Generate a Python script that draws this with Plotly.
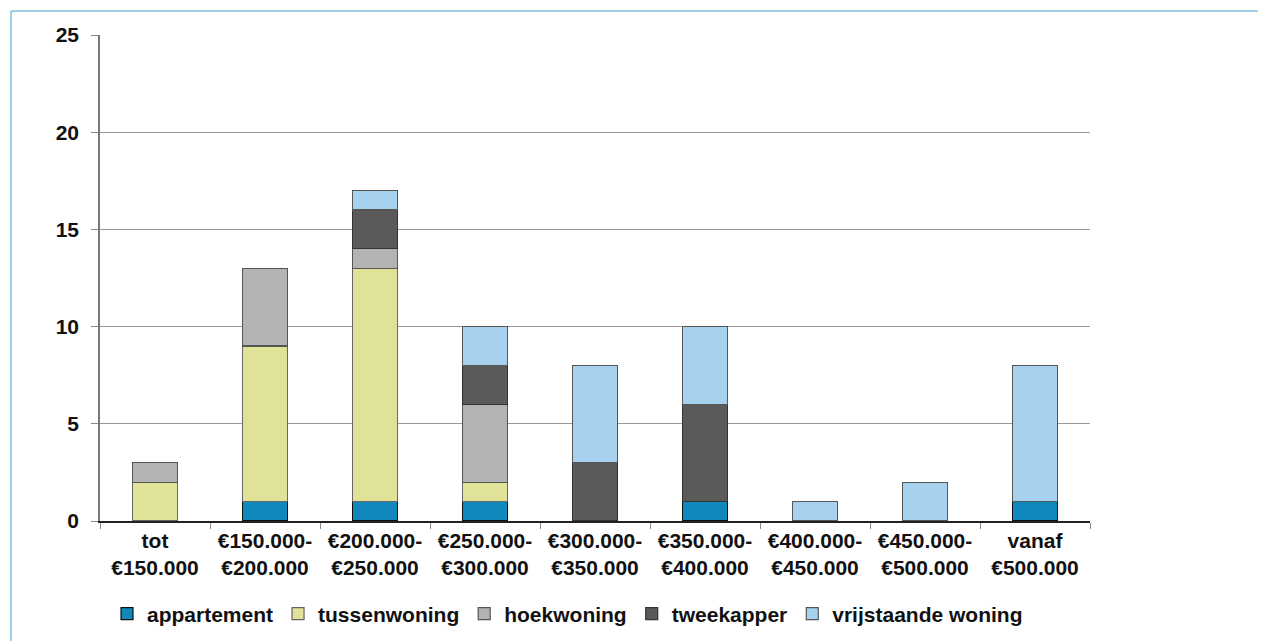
import plotly.graph_objects as go

categories = ["tot<br>€150.000", "€150.000-<br>€200.000", "€200.000-<br>€250.000",
              "€250.000-<br>€300.000", "€300.000-<br>€350.000", "€350.000-<br>€400.000",
              "€400.000-<br>€450.000", "€450.000-<br>€500.000", "vanaf<br>€500.000"]
appartement = [0, 1, 1, 1, 0, 1, 0, 0, 1]
tussenwoning = [2, 8, 12, 1, 0, 0, 0, 0, 0]
hoekwoning = [1, 4, 1, 4, 0, 0, 0, 0, 0]
tweekapper = [0, 0, 2, 2, 3, 5, 0, 0, 0]
vrijstaande = [0, 0, 1, 2, 5, 4, 1, 2, 7]
y_ticks = [0, 5, 10, 15, 20, 25]

series = [
    ("appartement", appartement, "#1188bb", "#111111"),
    ("tussenwoning", tussenwoning, "#dfe297", "#666666"),
    ("hoekwoning", hoekwoning, "#b3b3b3", "#555555"),
    ("tweekapper", tweekapper, "#5a5a5a", "#333333"),
    ("vrijstaande woning", vrijstaande, "#a6d2ef", "#555555"),
]

fig = go.Figure()
for name, vals, col, lc in series:
    fig.add_trace(go.Bar(x=categories, y=vals, name=name,
                         marker=dict(color=col, line=dict(color=lc, width=1.2)),
                         width=0.41))

FS = 21
font = dict(family="Liberation Sans, Arial, sans-serif", size=FS, color="#111111", weight="bold")
# page body has an 8px margin; figure is placed at (8, 8)
W, H = 1258, 633
L, T, R, B = 92, 27, 176, 120
pw, ph = W - L - R, H - T - B
fx = lambda px: (px - 8 - L) / pw
fy = lambda py: (H - B - (py - 8)) / ph

fig.update_layout(
    barmode="stack",
    width=W, height=H,
    margin=dict(l=L, r=R, t=T, b=B, autoexpand=False),
    paper_bgcolor="white", plot_bgcolor="white",
    font=font,
    showlegend=True,
    legend=dict(orientation="h", x=fx(107), y=(641 - 614) / H, yref="container",
                xanchor="left", yanchor="middle",
                font=font, traceorder="normal", itemwidth=30, tracegroupgap=0),
    xaxis=dict(type="category", tickson="boundaries", ticks="outside", ticklen=6,
               tickcolor="#888888", showline=True, linecolor="#222222", linewidth=1.5,
               showgrid=False, tickfont=font, automargin=False),
    yaxis=dict(range=[0, 25], tickvals=y_ticks, ticks="outside", ticklen=7,
               tickcolor="#888888", showline=True, linecolor="#777777", linewidth=1.5,
               showgrid=True, gridcolor="#999999", gridwidth=1.2, zeroline=False,
               tickfont=font, ticklabelstandoff=8, automargin=False),
    shapes=[
        dict(type="line", xref="paper", yref="paper", x0=fx(11), x1=fx(1266),
             y0=fy(11), y1=fy(11), line=dict(color="#3fa0d0", width=1)),
        dict(type="line", xref="paper", yref="paper", x0=fx(11), x1=fx(11),
             y0=fy(11), y1=fy(641), line=dict(color="#3fa0d0", width=1)),
    ],
)
fig.write_html("out.html")
